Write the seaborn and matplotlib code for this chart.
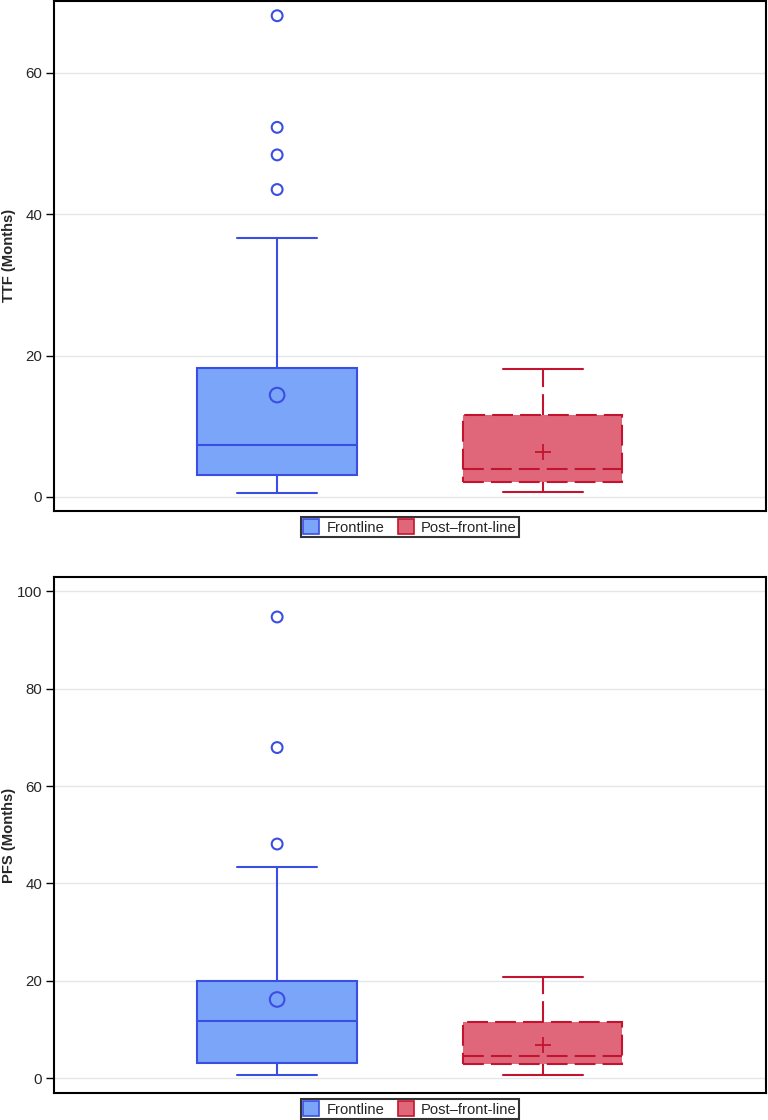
import numpy as np
import pandas as pd
import seaborn as sns
import matplotlib
matplotlib.use("Agg")
import matplotlib.pyplot as plt
from matplotlib.patches import Patch

# ---- data (months) ----
groups = ["Frontline", "Post\u2013front-line"]

# five-number summaries: [low whisker, Q1, median, Q3, high whisker]
ttf_frontline = [0.6, 3.1, 7.4, 18.3, 36.7]
ttf_post = [0.7, 2.1, 3.9, 11.6, 18.1]
ttf_frontline_mean = [14.4]
ttf_post_mean = [6.4]
ttf_frontline_outliers = [43.5, 48.4, 52.3, 68.1]

pfs_frontline = [0.6, 3.1, 11.7, 20.0, 43.4]
pfs_post = [0.6, 2.95, 4.6, 11.5, 20.9]
pfs_frontline_mean = [16.2]
pfs_post_mean = [6.9]
pfs_frontline_outliers = [48.1, 67.9, 94.7]

ttf_ticks = [0, 20, 40, 60]
pfs_ticks = [0, 20, 40, 60, 80, 100]

BLUE_FILL = "#7aa5f8"
BLUE_EDGE = "#3b4ee3"
RED_FILL = "#e0677a"
RED_EDGE = "#c3142f"

sns.set_theme(style="white")
plt.rcParams["font.family"] = ["Liberation Sans", "DejaVu Sans"]

fig = plt.figure(figsize=(7.68, 11.2), dpi=100)
ax1 = fig.add_axes([0.0703, 0.5438, 0.927, 0.4554])
ax2 = fig.add_axes([0.0703, 0.0241, 0.927, 0.4607])


def draw_panel(ax, front, post, front_mean, post_mean, front_out, ylabel, ylim, ticks):
    df_f = pd.DataFrame({"group": groups[0], "value": front})
    df_p = pd.DataFrame({"group": groups[1], "value": post})
    sns.boxplot(data=df_f, x="group", y="value", order=groups, ax=ax,
                whis=(0, 100), width=0.6, color=BLUE_FILL, linecolor=BLUE_EDGE,
                saturation=1, linewidth=1.5, showfliers=False, capwidths=0.3,
                medianprops={"color": BLUE_EDGE, "linewidth": 1.5})
    dash = (0, (10, 3.4))
    sns.boxplot(data=df_p, x="group", y="value", order=groups, ax=ax,
                whis=(0, 100), width=0.6, color=RED_FILL, linecolor=RED_EDGE,
                saturation=1, linewidth=1.5, showfliers=False, capwidths=0.3,
                boxprops={"linestyle": dash},
                medianprops={"color": RED_EDGE, "linewidth": 1.5, "linestyle": dash},
                whiskerprops={"linestyle": dash},
                capprops={"linestyle": "-"})
    # outliers
    sns.stripplot(x=[groups[0]] * len(front_out), y=front_out, order=groups, ax=ax,
                  jitter=False, marker="o", size=7.8, color=BLUE_EDGE,
                  facecolor="none", edgecolor=BLUE_EDGE, linewidth=1.5, zorder=5)
    # means
    sns.stripplot(x=[groups[0]] * len(front_mean), y=front_mean, order=groups, ax=ax,
                  jitter=False, marker="o", size=10.5, color=BLUE_EDGE,
                  facecolor="none", edgecolor=BLUE_EDGE, linewidth=1.5, zorder=5)
    sns.stripplot(x=[groups[1]] * len(post_mean), y=post_mean, order=groups, ax=ax,
                  jitter=False, marker="+", size=11, color=RED_EDGE,
                  linewidth=1.3, zorder=5)

    ax.set_xlim(-0.84, 1.84)
    ax.set_ylim(*ylim)
    ax.set_yticks(ticks)
    ax.set_yticklabels([str(t) for t in ticks], fontsize=10.8)
    ax.set_xticks([])
    ax.set_xlabel("")
    ax.set_ylabel(ylabel, fontsize=10.6, fontweight="bold")
    ax.yaxis.set_label_coords(-0.053, 0.5)
    ax.yaxis.grid(True, color="#e4e7ea", linewidth=1.0)
    ax.set_axisbelow(True)
    ax.tick_params(axis="y", which="major", left=True, length=5.5, width=1,
                   color="black", pad=3)
    for s in ax.spines.values():
        s.set_visible(True)
        s.set_color("black")
        s.set_linewidth(1.5)

    handles = [Patch(facecolor=BLUE_FILL, edgecolor=BLUE_EDGE, linewidth=1.2, label=groups[0]),
               Patch(facecolor=RED_FILL, edgecolor=RED_EDGE, linewidth=1.2, label=groups[1])]
    leg = ax.legend(handles=handles, loc="upper center", bbox_to_anchor=(0.5, -0.012),
                    ncol=2, frameon=True, fancybox=False, fontsize=10.6,
                    handlelength=1.1, handleheight=1.2, handletextpad=0.5,
                    columnspacing=0.9, borderpad=0.15, borderaxespad=0)
    leg.get_frame().set_edgecolor("black")
    leg.get_frame().set_linewidth(1.5)


draw_panel(ax1, ttf_frontline, ttf_post, ttf_frontline_mean, ttf_post_mean,
           ttf_frontline_outliers, "TTF (Months)", (-2.0, 70.2), ttf_ticks)
draw_panel(ax2, pfs_frontline, pfs_post, pfs_frontline_mean, pfs_post_mean,
           pfs_frontline_outliers, "PFS (Months)", (-3.0, 102.9), pfs_ticks)

fig.savefig("out.png", dpi=100)
